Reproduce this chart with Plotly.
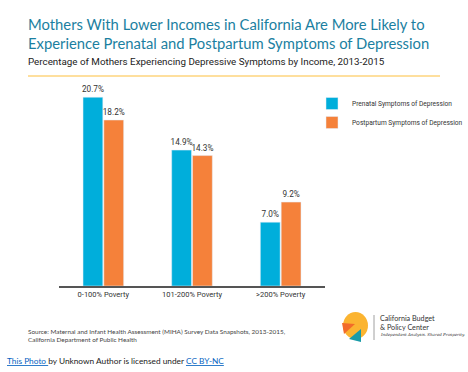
import plotly.graph_objects as go

categories = ["0-100% Poverty", "101-200% Poverty", ">200% Poverty"]
prenatal = [20.7, 14.9, 7.0]
postpartum = [18.2, 14.3, 9.2]
series_names = ["Prenatal Symptoms of Depression", "Postpartum Symptoms of Depression"]

W, H = 468, 372
L, R, T, B = 59, 325, 85, 286

def px(x):
    return (x - L) / (R - L)

def py(y):
    return (B - y) / (B - T)

BLUE = "#00aedb"
ORANGE = "#f5813a"
TEAL = "#1b7fa1"
lab_font = "Roboto"

fig = go.Figure()
fig.add_trace(go.Bar(x=categories, y=prenatal, name=series_names[0], marker_color=BLUE,
                     text=[f"{v:.1f}%" for v in prenatal], textposition="outside",
                     constraintext="none",
                     textfont=dict(size=8.2, color="#333", family=lab_font), cliponaxis=False))
fig.add_trace(go.Bar(x=categories, y=postpartum, name=series_names[1], marker_color=ORANGE,
                     text=[f"{v:.1f}%" for v in postpartum], textposition="outside",
                     constraintext="none",
                     textfont=dict(size=8.2, color="#333", family=lab_font), cliponaxis=False))

anns = [
    dict(x=px(26), y=py(33), xanchor="left", yanchor="middle",
         text="Mothers With Lower Incomes in California Are More Likely to<br>Experience Prenatal and Postpartum Symptoms of Depression",
         font=dict(family="Lato", size=14.8, color=TEAL), align="left"),
    dict(x=px(26), y=py(62), xanchor="left", yanchor="middle",
         text="Percentage of Mothers Experiencing Depressive Symptoms by Income, 2013-2015",
         font=dict(family=lab_font, size=9.8, color="#222"), align="left"),
    dict(x=px(26), y=py(335), xanchor="left", yanchor="middle",
         text="Source: Maternal and Infant Health Assessment (MIHA) Survey Data Snapshots, 2013-2015,<br>California Department of Public Health",
         font=dict(family="Lato", size=6.4, color="#444"), align="left"),
    dict(x=px(378), y=py(323), xanchor="left", yanchor="middle",
         text="California Budget<br>& Policy Center",
         font=dict(family="Lato", size=7.2, color="#333"), align="left"),
    dict(x=px(378), y=py(334), xanchor="left", yanchor="middle",
         text="<i>Independent Analysis. Shared Prosperity.</i>",
         font=dict(family="DejaVu Serif", size=4, color="#333"), align="left"),
    dict(x=px(5), y=py(361), xanchor="left", yanchor="middle",
         text="<span style='color:#0563c1'><u>This Photo </u></span>by Unknown Author is licensed under <span style='color:#0563c1'><u>CC BY-NC</u></span>",
         font=dict(family="Lato", size=8.3, color="#222"), align="left"),
]
for a in anns:
    a.update(xref="paper", yref="paper", showarrow=False)

shapes = [
    dict(type="line", xref="paper", yref="paper", x0=px(28), x1=px(440), y0=py(76), y1=py(76),
         line=dict(color="#fdbf3d", width=1)),
    dict(type="circle", xref="paper", yref="paper", x0=px(343), x1=px(368), y0=py(339), y1=py(312),
         fillcolor="#fbb431", line=dict(width=0)),
    dict(type="path", xref="paper", yref="paper",
         path=f"M{px(342)},{py(323)} L{px(355)},{py(324)} L{px(344)},{py(334)} Z",
         fillcolor="#f26b2a", line=dict(width=0)),
    dict(type="path", xref="paper", yref="paper",
         path=f"M{px(349)},{py(339)} L{px(361)},{py(329)} L{px(361)},{py(342)} Z",
         fillcolor="#1a9ba8", line=dict(width=0)),
    dict(type="line", xref="paper", yref="paper", x0=px(374), x1=px(374), y0=py(315), y1=py(340),
         line=dict(color="#888", width=0.8)),
]

fig.update_layout(
    width=W, height=H,
    margin=dict(l=L, r=W - R, t=T, b=H - B, pad=0, autoexpand=False),
    paper_bgcolor="white", plot_bgcolor="white",
    barmode="group", bargap=0.53, bargroupgap=0.05,
    showlegend=True,
    legend=dict(x=px(312), y=py(89), xanchor="left", yanchor="top", itemwidth=30,
                font=dict(family=lab_font, size=6.6, color="#333"),
                bgcolor="rgba(0,0,0,0)", tracegroupgap=0),
    annotations=anns, shapes=shapes,
    xaxis=dict(showline=True, linecolor="#555", linewidth=1.5, ticks="", automargin=False,
               tickangle=0,
               tickfont=dict(family=lab_font, size=7.5, color="#333"), showgrid=False),
    yaxis=dict(visible=False, range=[0, (B - T) / 9.12], showgrid=False, zeroline=False,
               automargin=False),
)

fig.write_html("out.html", config={"displayModeBar": False},
               post_script="document.body.style.margin='0';document.body.style.overflow='hidden';")
